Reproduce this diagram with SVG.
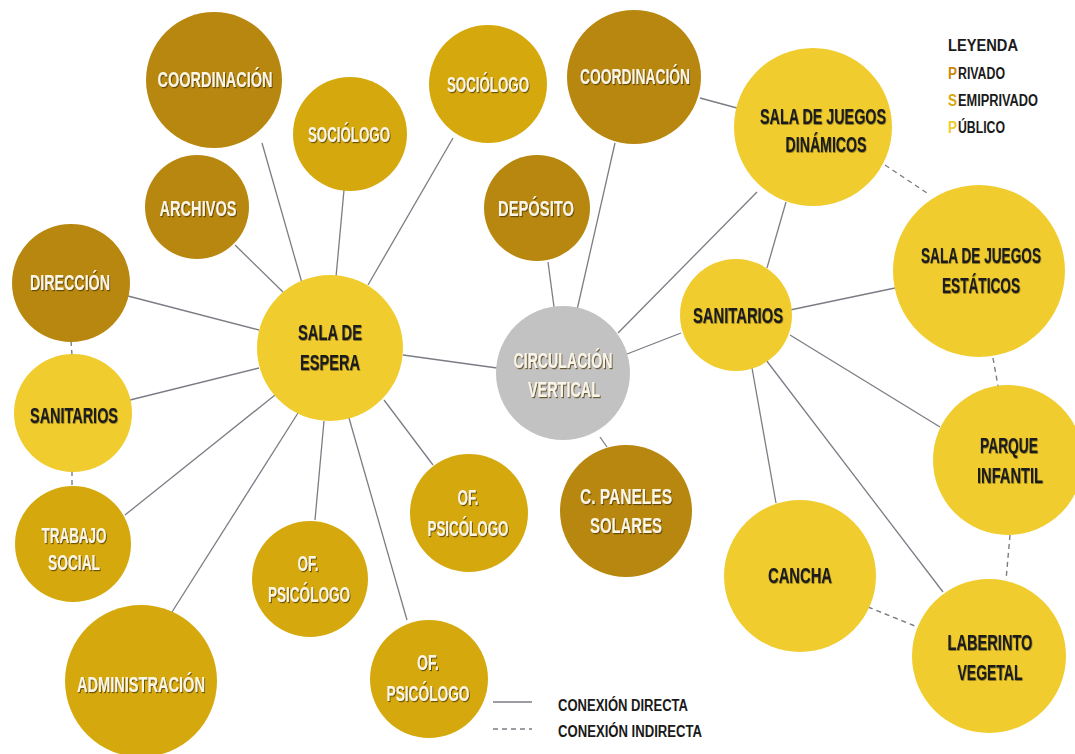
<svg xmlns="http://www.w3.org/2000/svg" width="1075" height="754" viewBox="0 0 1075 754">
<defs>
<style>
.priv{fill:#b8870f}
.semi{fill:#d5a90e}
.pub{fill:#f0cc2e}
.gray{fill:#c2c2c2}
.t{font-family:"Liberation Sans Narrow","Liberation Sans","DejaVu Sans Condensed",sans-serif;font-weight:bold;font-size:22px;text-anchor:middle}
.w{fill:#fbf5e6;filter:url(#sh)}
.b{fill:#1a1a1a;filter:url(#shl)}
.c{stroke:#7b7d85;stroke-width:1.3;fill:none}
.d{stroke:#7b7d85;stroke-width:1.4;fill:none;stroke-dasharray:5 4}
.lg{font-family:"Liberation Sans Narrow","Liberation Sans","DejaVu Sans Condensed",sans-serif;font-weight:bold;font-size:16px;fill:#1a1a1a}
</style>
<filter id="sh" x="-10%" y="-30%" width="120%" height="160%">
<feDropShadow dx="1" dy="1.2" stdDeviation="0.6" flood-color="#4a3500" flood-opacity="0.75"/>
</filter>
<filter id="shl" x="-10%" y="-30%" width="120%" height="160%">
<feDropShadow dx="0.5" dy="0.8" stdDeviation="0.6" flood-color="#000" flood-opacity="0.5"/>
</filter>
</defs>
<rect width="1075" height="754" fill="#ffffff"/>
<g id="connectors">
<line class="c" x1="262" y1="143" x2="302" y2="283"/>
<line class="c" x1="344" y1="190" x2="336" y2="277"/>
<line class="c" x1="453" y1="138" x2="368" y2="285"/>
<line class="c" x1="235" y1="245" x2="283" y2="292"/>
<line class="c" x1="128" y1="296" x2="259" y2="330"/>
<line class="c" x1="130" y1="400" x2="259" y2="368"/>
<line class="c" x1="125" y1="515" x2="275" y2="395"/>
<line class="c" x1="172" y1="612" x2="298" y2="413"/>
<line class="c" x1="315" y1="520" x2="324" y2="421"/>
<line class="c" x1="407" y1="620" x2="349" y2="418"/>
<line class="c" x1="433" y1="465" x2="384" y2="400"/>
<line class="c" x1="403" y1="355" x2="497" y2="368"/>
<line class="c" x1="548" y1="262" x2="554" y2="307"/>
<line class="c" x1="615" y1="143" x2="577" y2="310"/>
<line class="c" x1="757" y1="192" x2="618" y2="333"/>
<line class="c" x1="681" y1="333" x2="627" y2="354"/>
<line class="c" x1="600" y1="437" x2="607" y2="447"/>
<line class="c" x1="700" y1="98" x2="737" y2="108"/>
<line class="c" x1="767" y1="268" x2="786" y2="202"/>
<line class="c" x1="790" y1="310" x2="895" y2="288"/>
<line class="c" x1="790" y1="335" x2="940" y2="427"/>
<line class="c" x1="766" y1="360" x2="943" y2="592"/>
<line class="c" x1="752" y1="368" x2="776" y2="503"/>
<line class="d" x1="885" y1="165" x2="930" y2="195"/>
<line class="d" x1="993" y1="358" x2="998" y2="386"/>
<line class="d" x1="1010" y1="535" x2="1006" y2="580"/>
<line class="d" x1="868" y1="607" x2="915" y2="626"/>
<line class="d" x1="71" y1="341" x2="72" y2="355"/>
<line class="d" x1="72" y1="471" x2="72" y2="487"/>
</g>
<g id="n-coordinacion-1"><circle class="priv" cx="214" cy="80" r="68"/><text class="t w" x="215" y="87" textLength="115" lengthAdjust="spacingAndGlyphs">COORDINACIÓN</text></g>
<g id="n-sociologo-1"><circle class="semi" cx="350" cy="134" r="57"/><text class="t w" x="349" y="142" textLength="82" lengthAdjust="spacingAndGlyphs">SOCIÓLOGO</text></g>
<g id="n-sociologo-2"><circle class="semi" cx="488" cy="84" r="59"/><text class="t w" x="488" y="92" textLength="82" lengthAdjust="spacingAndGlyphs">SOCIÓLOGO</text></g>
<g id="n-coordinacion-2"><circle class="priv" cx="634" cy="77" r="67"/><text class="t w" x="635" y="84" textLength="110" lengthAdjust="spacingAndGlyphs">COORDINACIÓN</text></g>
<g id="n-archivos"><circle class="priv" cx="197" cy="207" r="52"/><text class="t w" x="198" y="216" textLength="77" lengthAdjust="spacingAndGlyphs">ARCHIVOS</text></g>
<g id="n-deposito"><circle class="priv" cx="537" cy="208" r="53"/><text class="t w" x="536" y="216" textLength="76" lengthAdjust="spacingAndGlyphs">DEPÓSITO</text></g>
<g id="n-direccion"><circle class="priv" cx="71" cy="283" r="59"/><text class="t w" x="70" y="290" textLength="80" lengthAdjust="spacingAndGlyphs">DIRECCIÓN</text></g>
<g id="n-sala-espera"><circle class="pub" cx="330" cy="348" r="73"/><text class="t b" x="330" y="340" textLength="64" lengthAdjust="spacingAndGlyphs">SALA DE</text><text class="t b" x="330" y="370" textLength="60" lengthAdjust="spacingAndGlyphs">ESPERA</text></g>
<g id="n-circulacion"><circle class="gray" cx="563" cy="373" r="67"/><text class="t w" x="563" y="368" textLength="99" lengthAdjust="spacingAndGlyphs">CIRCULACIÓN</text><text class="t w" x="564" y="397" textLength="72" lengthAdjust="spacingAndGlyphs">VERTICAL</text></g>
<g id="n-sanitarios-1"><circle class="pub" cx="73" cy="413" r="59"/><text class="t b" x="74" y="423" textLength="88" lengthAdjust="spacingAndGlyphs">SANITARIOS</text></g>
<g id="n-trabajo-social"><circle class="semi" cx="73" cy="544" r="58"/><text class="t w" x="74" y="543" textLength="65" lengthAdjust="spacingAndGlyphs">TRABAJO</text><text class="t w" x="74" y="570" textLength="52" lengthAdjust="spacingAndGlyphs">SOCIAL</text></g>
<g id="n-administracion"><circle class="semi" cx="141" cy="681" r="76"/><text class="t w" x="141" y="692" textLength="128" lengthAdjust="spacingAndGlyphs">ADMINISTRACIÓN</text></g>
<g id="n-psicologo-1"><circle class="semi" cx="469" cy="513" r="59"/><text class="t w" x="468" y="505" textLength="21" lengthAdjust="spacingAndGlyphs">OF.</text><text class="t w" x="468" y="536" textLength="81" lengthAdjust="spacingAndGlyphs">PSICÓLOGO</text></g>
<g id="n-psicologo-2"><circle class="semi" cx="310" cy="579" r="58"/><text class="t w" x="308" y="571" textLength="21" lengthAdjust="spacingAndGlyphs">OF.</text><text class="t w" x="309" y="602" textLength="82" lengthAdjust="spacingAndGlyphs">PSICÓLOGO</text></g>
<g id="n-psicologo-3"><circle class="semi" cx="429" cy="679" r="59"/><text class="t w" x="428" y="670" textLength="22" lengthAdjust="spacingAndGlyphs">OF.</text><text class="t w" x="428" y="701" textLength="83" lengthAdjust="spacingAndGlyphs">PSICÓLOGO</text></g>
<g id="n-paneles"><circle class="priv" cx="626" cy="511" r="66"/><text class="t w" x="626" y="504" textLength="92" lengthAdjust="spacingAndGlyphs">C. PANELES</text><text class="t w" x="626" y="533" textLength="72" lengthAdjust="spacingAndGlyphs">SOLARES</text></g>
<g id="n-juegos-dinamicos"><circle class="pub" cx="813" cy="127" r="79"/><text class="t b" x="823" y="124" textLength="126" lengthAdjust="spacingAndGlyphs">SALA DE JUEGOS</text><text class="t b" x="826" y="152" textLength="81" lengthAdjust="spacingAndGlyphs">DINÁMICOS</text></g>
<g id="n-juegos-estaticos"><circle class="pub" cx="979" cy="271" r="86"/><text class="t b" transform="translate(981 263) scale(0.62 1)" x="0" y="0">SALA DE JUEGOS</text><text class="t b" x="981" y="293" textLength="78" lengthAdjust="spacingAndGlyphs">ESTÁTICOS</text></g>
<g id="n-sanitarios-2"><circle class="pub" cx="736" cy="315" r="56"/><text class="t b" x="738" y="323" textLength="90" lengthAdjust="spacingAndGlyphs">SANITARIOS</text></g>
<g id="n-parque"><circle class="pub" cx="1008" cy="460" r="75"/><text class="t b" x="1009" y="453" textLength="58" lengthAdjust="spacingAndGlyphs">PARQUE</text><text class="t b" x="1010" y="483" textLength="66" lengthAdjust="spacingAndGlyphs">INFANTIL</text></g>
<g id="n-cancha"><circle class="pub" cx="800" cy="576" r="76"/><text class="t b" x="800" y="583" textLength="64" lengthAdjust="spacingAndGlyphs">CANCHA</text></g>
<g id="n-laberinto"><circle class="pub" cx="989" cy="656" r="77"/><text class="t b" x="990" y="650" textLength="85" lengthAdjust="spacingAndGlyphs">LABERINTO</text><text class="t b" x="990" y="680" textLength="65" lengthAdjust="spacingAndGlyphs">VEGETAL</text></g>
<g id="legend">
<text class="lg" x="948" y="51" textLength="70" lengthAdjust="spacingAndGlyphs">LEYENDA</text>
<text class="lg" x="948" y="79" style="fill:#c98a0a" textLength="9" lengthAdjust="spacingAndGlyphs">P</text>
<text class="lg" x="958" y="79" textLength="47" lengthAdjust="spacingAndGlyphs">RIVADO</text>
<text class="lg" x="948" y="106" style="fill:#d5a90e" textLength="9" lengthAdjust="spacingAndGlyphs">S</text>
<text class="lg" x="958" y="106" textLength="80" lengthAdjust="spacingAndGlyphs">EMIPRIVADO</text>
<text class="lg" x="948" y="133" style="fill:#f0cc2e" textLength="9" lengthAdjust="spacingAndGlyphs">P</text>
<text class="lg" x="958" y="133" textLength="47" lengthAdjust="spacingAndGlyphs">ÚBLICO</text>
<line class="c" x1="493" y1="702" x2="532" y2="702"/>
<line class="d" x1="493" y1="729" x2="532" y2="729"/>
<text class="lg" x="558" y="711" textLength="130" lengthAdjust="spacingAndGlyphs">CONEXIÓN DIRECTA</text>
<text class="lg" x="558" y="737" textLength="144" lengthAdjust="spacingAndGlyphs">CONEXIÓN INDIRECTA</text>
</g>
</svg>
